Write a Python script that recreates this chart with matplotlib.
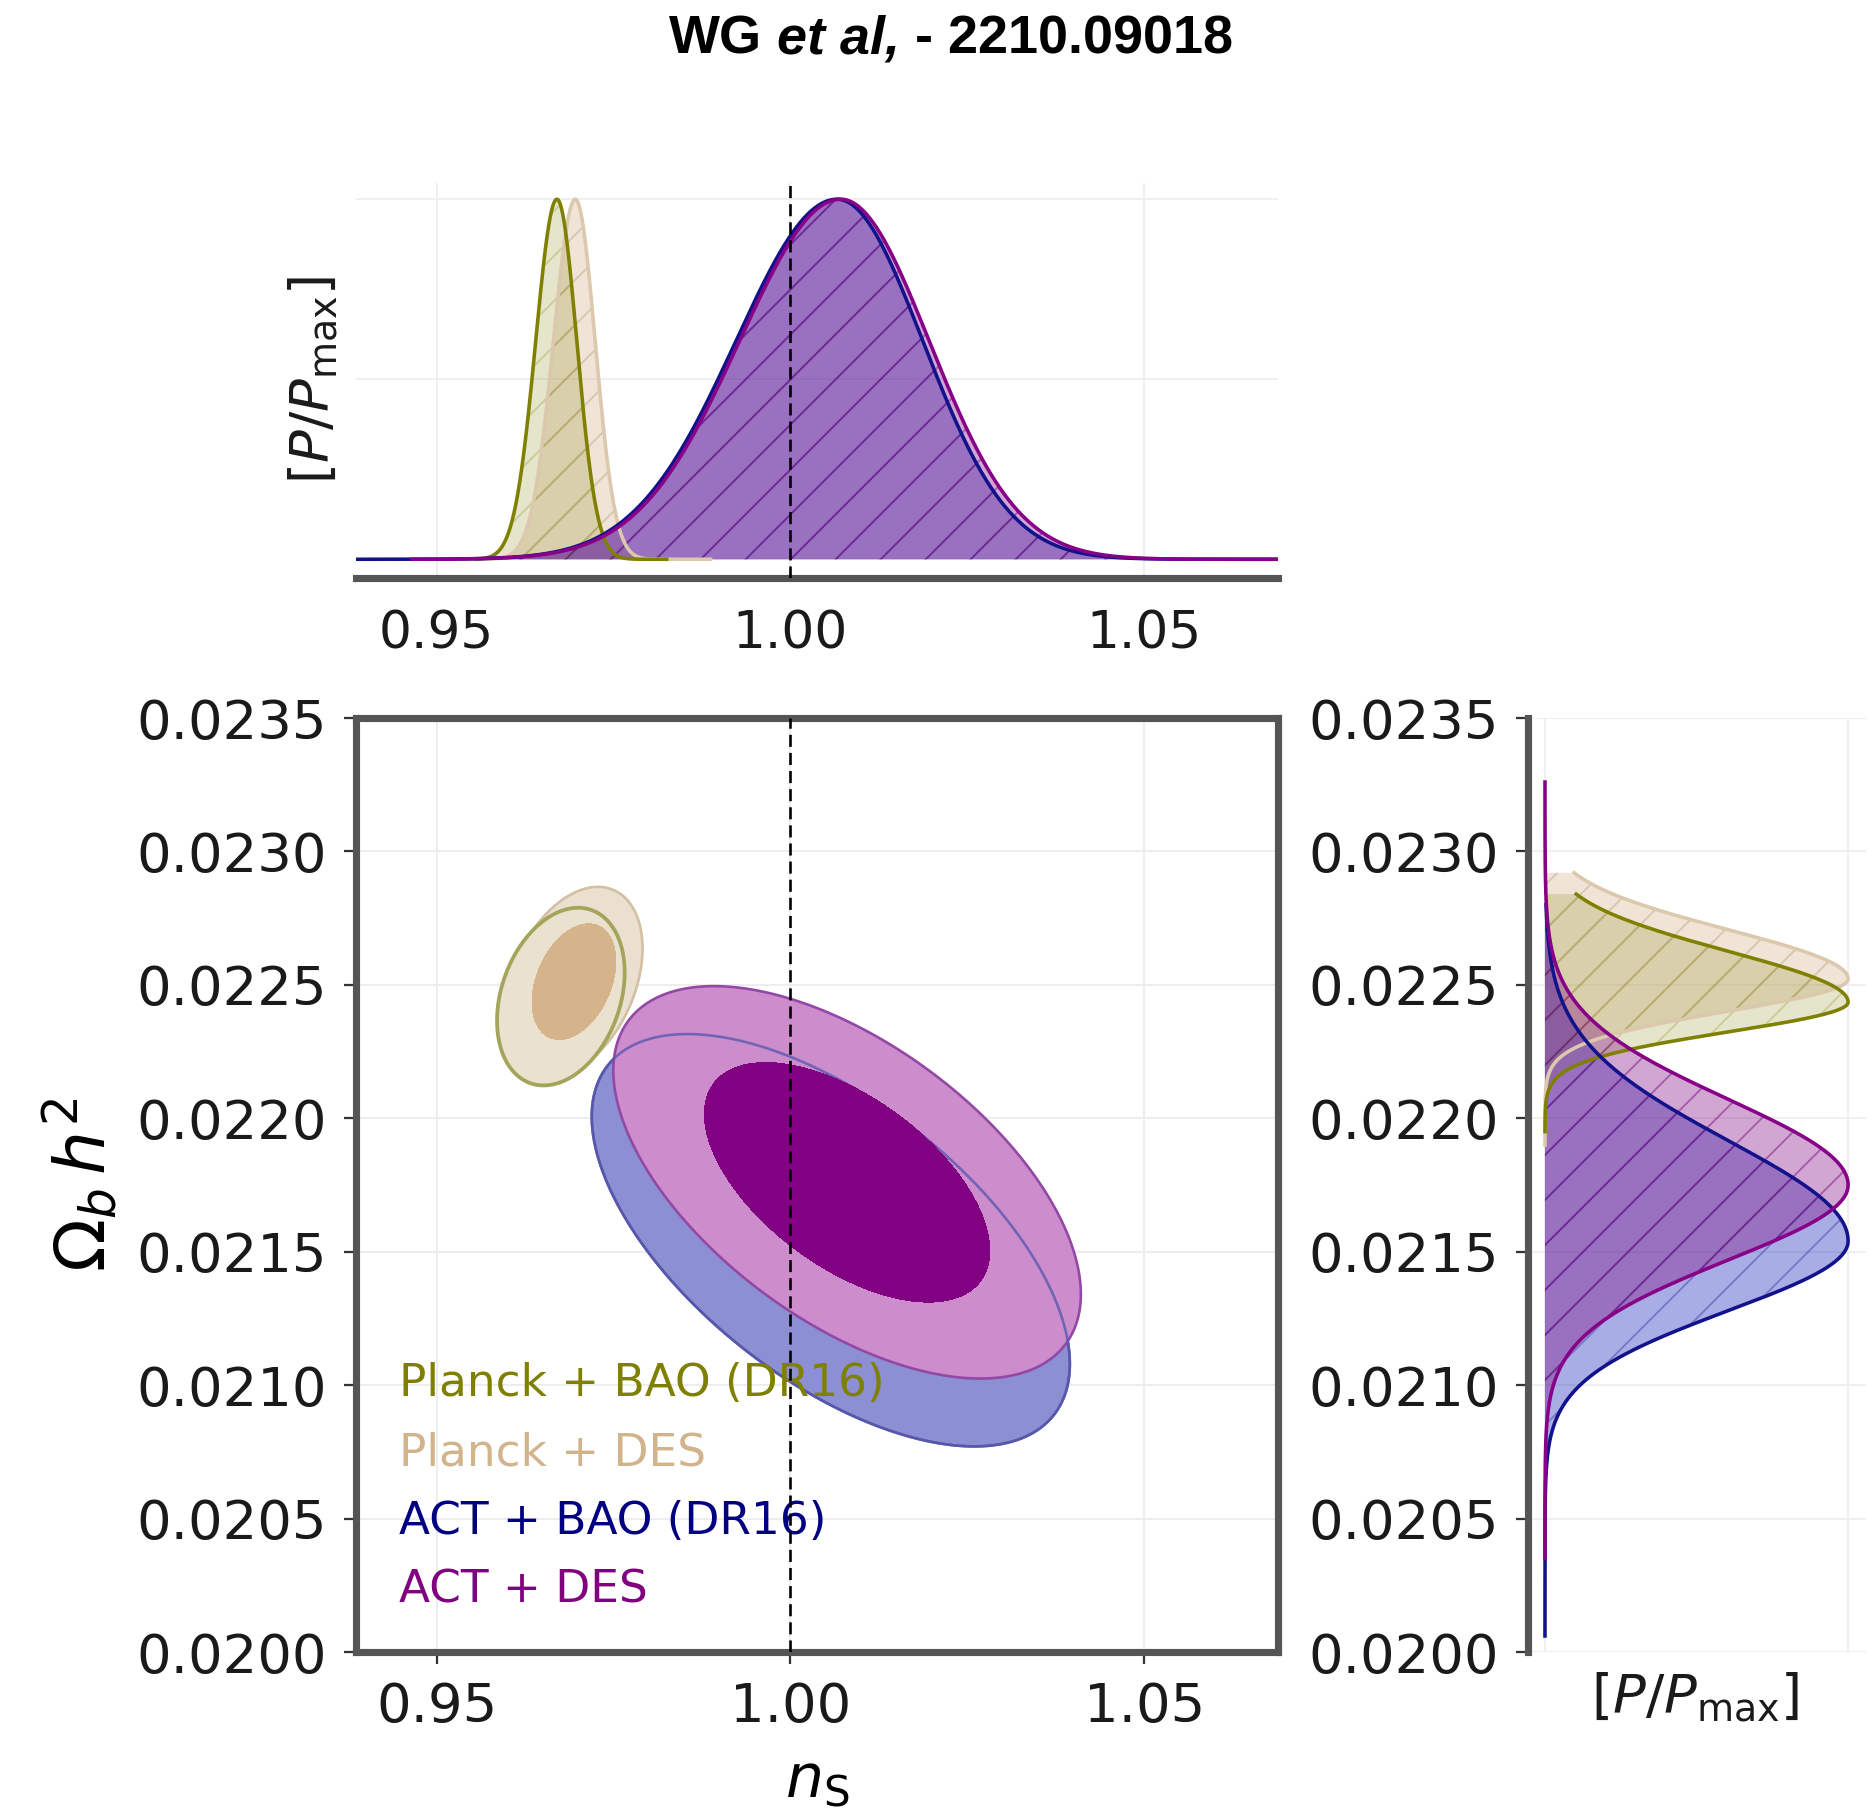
import numpy as np
import matplotlib
matplotlib.use("Agg")
import matplotlib.pyplot as plt
from matplotlib.lines import Line2D

# ---------------- data ----------------
labels = ["Planck + BAO (DR16)", "Planck + DES", "ACT + BAO (DR16)", "ACT + DES"]
label_colors = ["#808000", "#d2b48c", "#000080", "#800080"]

ns_ticks = [0.95, 1.00, 1.05]
ob_ticks = [0.0200, 0.0205, 0.0210, 0.0215, 0.0220, 0.0225, 0.0230, 0.0235]
ns_lim = (0.9386, 1.0689)
ob_lim = (0.0200, 0.0235)
ns_ref = 1.00

# 1D marginals (split-normal shape): peak, width below, width above, sampled range
ns_peak = [0.9670, 0.9696, 1.0066, 1.0071]
ns_wlo = [0.0030, 0.0031, 0.0143, 0.0143]
ns_whi = [0.0028, 0.0028, 0.0121, 0.0125]
ns_lo = [0.9556, 0.9562, 0.9386, 0.9465]
ns_hi = [0.9825, 0.9887, 1.0689, 1.0689]

ob_peak = [0.022435, 0.022522, 0.021540, 0.021750]
ob_wlo = [0.000111, 0.000120, 0.000260, 0.000280]
ob_whi = [0.000190, 0.000184, 0.000375, 0.000320]
ob_lo = [0.02195, 0.02190, 0.02006, 0.02035]
ob_hi = [0.02284, 0.02292, 0.02280, 0.02326]

# 2D posteriors (Gaussian approximation): centre, widths, correlation
ns_c = [0.96755, 0.9694, 1.0057, 1.0080]
ob_c = [0.022456, 0.022512, 0.021543, 0.021760]
ns_s = [0.00363, 0.0039, 0.0136, 0.0133]
ob_s = [0.000134, 0.000143, 0.000311, 0.000296]
rho = [0.27, 0.35, -0.60, -0.57]
chi2_levels = [2.30, 6.17]  # 68% and 95% (2 dof)

# ---------------- styles ----------------
fill1d = [(0.502, 0.502, 0.0, 0.20), (0.824, 0.706, 0.549, 0.35),
          (0.157, 0.196, 0.745, 0.40), (0.502, 0.0, 0.502, 0.35)]
hatch1d = [(0.50, 0.50, 0.0, 0.25), (0.72, 0.60, 0.45, 0.40),
           (0.0, 0.0, 0.50, 0.30), (0.45, 0.0, 0.45, 0.45)]
line1d = ["#7f8000", "#dcc8ad", "#12128c", "#870087"]

plt.rcParams.update({"font.family": "DejaVu Sans", "hatch.linewidth": 0.5,
                     "mathtext.fontset": "dejavusans"})

DPI = 270
W, H = 1869, 1812
fig = plt.figure(figsize=(W / DPI, H / DPI), dpi=DPI)


def rect(l, t, r, b):
    return [l / W, 1 - b / H, (r - l) / W, (b - t) / H]


ax = fig.add_axes(rect(356, 718, 1278, 1652))
axt = fig.add_axes(rect(356, 183, 1278, 578))
axr = fig.add_axes(rect(1528, 718, 1866, 1652))

SP = "#555555"
SPW = 1.9


def marg(x, pk, wl, wh):
    w = np.where(x < pk, wl, wh)
    return np.exp(-0.5 * ((x - pk) / w) ** 2)


# ---------------- main 2D panel ----------------
gx = np.linspace(ns_lim[0], ns_lim[1], 900)
gy = np.linspace(ob_lim[0], ob_lim[1], 900)
GX, GY = np.meshgrid(gx, gy)


def chi2(i):
    dx = (GX - ns_c[i]) / ns_s[i]
    dy = (GY - ob_c[i]) / ob_s[i]
    r = rho[i]
    return (dx ** 2 - 2 * r * dx * dy + dy ** 2) / (1 - r ** 2)


c2 = [chi2(i) for i in range(4)]
l1, l2 = chi2_levels


def cfill(i, lev, color, z):
    ax.contourf(GX, GY, c2[i], levels=[-1, lev], colors=[color], zorder=z)


def cline(i, lev, color, lw, z, alpha=1.0):
    ax.contour(GX, GY, c2[i], levels=[lev], colors=[color], linewidths=lw,
               zorder=z, alpha=alpha)


# Planck + DES (outer), Planck + BAO, inner tan
cfill(1, l2, "#ebdfd0", 2.0)
cline(1, l2, "#d3c0a3", 0.7, 2.1)
cfill(0, l2, "#ebe1cf", 2.2)
cline(0, l2, "#a3a55a", 1.0, 2.3)
cfill(1, l1, "#d5b38b", 2.4)
# ACT + BAO
cfill(2, l2, "#8c90d2", 2.5)
cline(2, l2, "#4f4fa3", 0.7, 2.6)
# ACT + DES
cfill(3, l2, "#cd8ccc", 2.7)
cline(3, l2, "#9448a6", 0.7, 2.8)
cline(2, l2, "#5a5ab0", 0.7, 2.85, alpha=0.8)
cfill(3, l1, "#820082", 2.9)

ax.set_xlim(*ns_lim)
ax.set_ylim(*ob_lim)
ax.set_xticks(ns_ticks)
ax.set_xticklabels([f"{v:.2f}" for v in ns_ticks])
ax.set_yticks(ob_ticks)
ax.set_yticklabels([f"{v:.4f}" for v in ob_ticks])
ax.grid(color="#ececec", lw=0.5)
ax.set_axisbelow(True)
for s in ax.spines.values():
    s.set_color(SP)
    s.set_linewidth(SPW)
ax.tick_params(direction="out", length=3.2, width=0.6, color="#333333",
               pad=4.5, labelsize=14.5, labelcolor="#1a1a1a")
ax.axvline(ns_ref, color="black", lw=0.7, ls=(0, (4.6, 2.3)), zorder=6)

ax.set_xlabel(r"$n_\mathrm{S}$", fontsize=16)
ax.xaxis.set_label_coords(0.5, -0.107)
ax.set_ylabel(r"$\Omega_b\, h^2$", fontsize=18.5)
ax.yaxis.set_label_coords(-0.257, 0.5)

handles = [Line2D([], [], lw=0) for _ in labels]
leg = ax.legend(handles, labels, loc="lower left", bbox_to_anchor=(0.0466, 0.043),
                frameon=False, handlelength=0, handletextpad=0, borderpad=0,
                borderaxespad=0, labelspacing=0.57, fontsize=12.1,
                labelcolor=label_colors)
leg.set_zorder(5)

# ---------------- top 1D panel (n_S) ----------------
order = [1, 0, 2, 3]
for i in order:
    x = np.linspace(ns_lo[i], ns_hi[i], 800)
    p = marg(x, ns_peak[i], ns_wlo[i], ns_whi[i])
    axt.fill_between(x, 0, p, facecolor=fill1d[i], lw=0, zorder=2)
    axt.fill_between(x, 0, p, facecolor="none", edgecolor=hatch1d[i], hatch="//",
                     lw=0, zorder=2.1)
for i in order:
    x = np.linspace(ns_lo[i], ns_hi[i], 800)
    p = marg(x, ns_peak[i], ns_wlo[i], ns_whi[i])
    axt.plot(x, p, color=line1d[i], lw=0.95, zorder=3)
axt.axvline(ns_ref, color="black", lw=0.7, ls=(0, (4.6, 2.3)), zorder=6)
axt.set_xlim(*ns_lim)
axt.set_ylim(-0.052, 1.045)
axt.set_xticks(ns_ticks)
axt.set_xticklabels([f"{v:.2f}" for v in ns_ticks])
axt.set_yticks([0, 0.5, 1.0])
axt.set_yticklabels([])
axt.grid(color="#eeeeee", lw=0.5)
axt.set_axisbelow(True)
for k in ["top", "left", "right"]:
    axt.spines[k].set_visible(False)
axt.spines["bottom"].set_color(SP)
axt.spines["bottom"].set_linewidth(SPW)
axt.tick_params(axis="x", length=0, pad=8.5, labelsize=13.8, labelcolor="#1a1a1a")
axt.tick_params(axis="y", length=0)
axt.set_ylabel(r"$[P/P_\mathrm{max}]$", fontsize=14.5, color="#1a1a1a")
axt.yaxis.set_label_coords(-0.017, 0.5)

# ---------------- right 1D panel (Omega_b h^2) ----------------
for i in order:
    y = np.linspace(ob_lo[i], ob_hi[i], 800)
    p = marg(y, ob_peak[i], ob_wlo[i], ob_whi[i])
    axr.fill_betweenx(y, 0, p, facecolor=fill1d[i], lw=0, zorder=2)
    axr.fill_betweenx(y, 0, p, facecolor="none", edgecolor=hatch1d[i], hatch="//",
                      lw=0, zorder=2.1)
for i in order:
    y = np.linspace(ob_lo[i], ob_hi[i], 800)
    p = marg(y, ob_peak[i], ob_wlo[i], ob_whi[i])
    axr.plot(p, y, color=line1d[i], lw=0.95, zorder=3)
axr.set_ylim(*ob_lim)
axr.set_xlim(-0.056, 1.059)
axr.set_yticks(ob_ticks)
axr.set_yticklabels([f"{v:.4f}" for v in ob_ticks])
axr.set_xticks([0, 1.0])
axr.set_xticklabels([])
axr.grid(color="#eeeeee", lw=0.5)
axr.set_axisbelow(True)
for k in ["top", "bottom", "right"]:
    axr.spines[k].set_visible(False)
axr.spines["left"].set_color(SP)
axr.spines["left"].set_linewidth(SPW)
axr.tick_params(axis="y", direction="out", length=3.2, width=0.6, color="#333333",
                pad=4.5, labelsize=14.5, labelcolor="#1a1a1a")
axr.tick_params(axis="x", length=0)
axr.set_xlabel(r"$[P/P_\mathrm{max}]$", fontsize=14.5, color="#1a1a1a")
axr.xaxis.set_label_coords(0.494, -0.02)

# ---------------- title (bold, with italic "et al,") ----------------
r = fig.canvas.get_renderer()
tprops = dict(fontsize=14.4, fontweight="bold", family="Liberation Sans",
              color="black", va="center", ha="left")
parts = [("WG", "normal"), ("et al,", "italic"), ("- 2210.09018", "normal")]
texts = [fig.text(0, 0, s, style=st, **tprops) for s, st in parts]
ws = [t.get_window_extent(r).width for t in texts]
pa = fig.text(0, 0, "a a", **tprops)
pb = fig.text(0, 0, "aa", **tprops)
gap = pa.get_window_extent(r).width - pb.get_window_extent(r).width
pa.remove()
pb.remove()
total = sum(ws) + 2 * gap
xpos = 951 - total / 2
for t, w in zip(texts, ws):
    t.set_position((xpos / W, 1 - 40 / H))
    xpos += w + gap

fig.savefig("out.png", dpi=DPI)
